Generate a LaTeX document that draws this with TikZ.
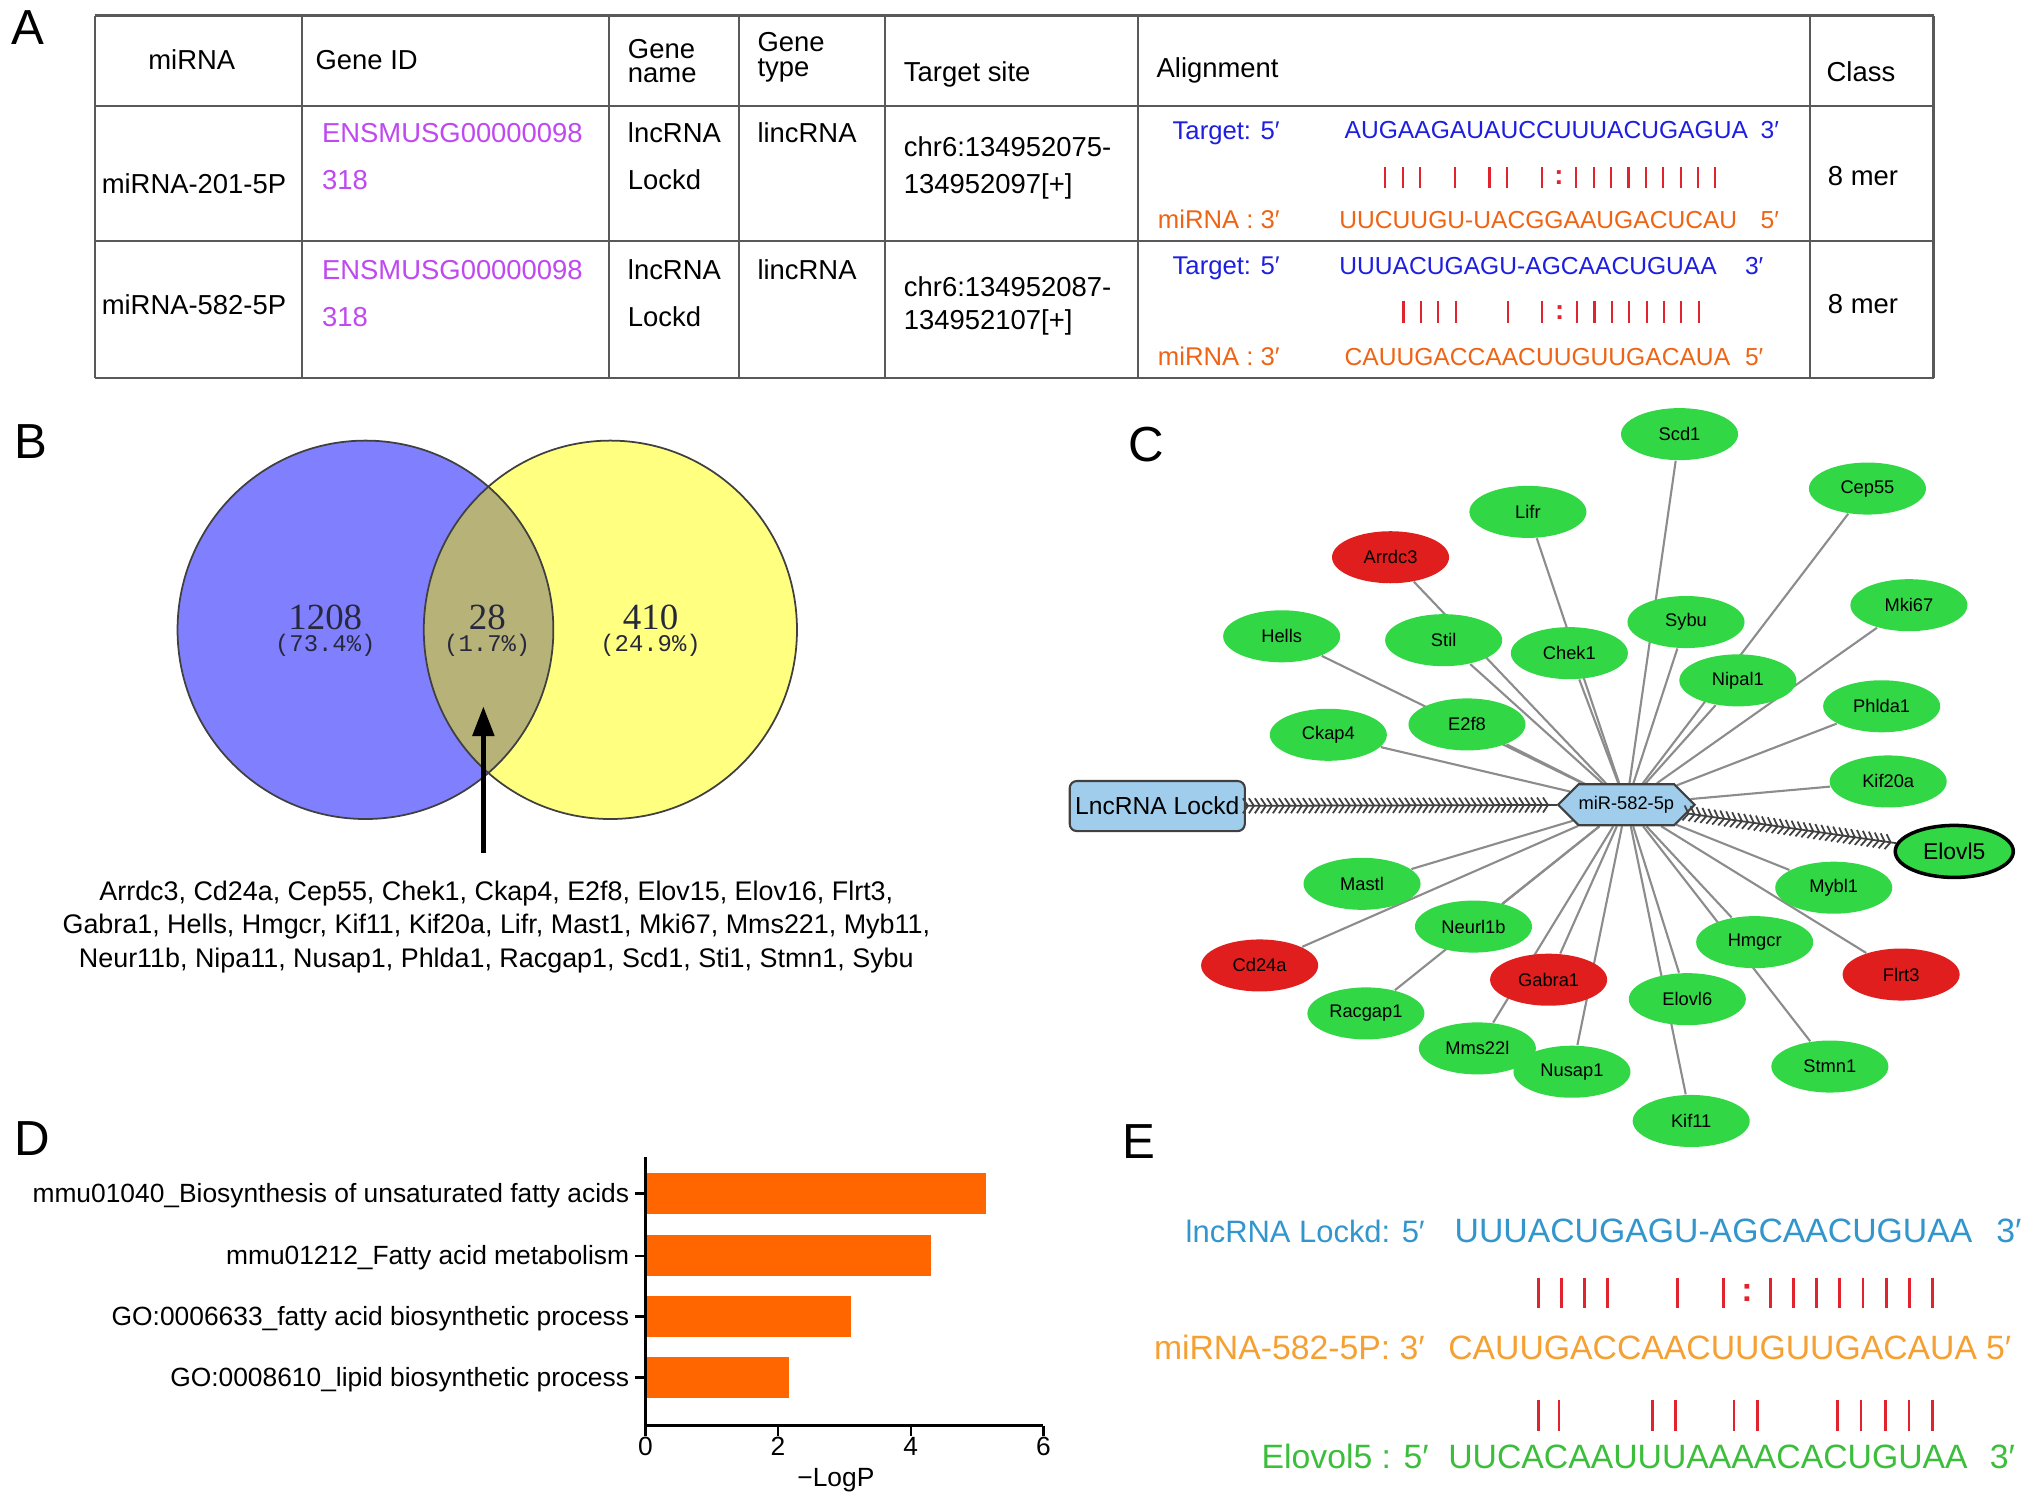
\documentclass[tikz,border=0pt]{standalone}
\usepackage{fontspec}
\setmainfont{Liberation Sans}
\newfontfamily\vnum{Liberation Serif}
\newfontfamily\vpct{Liberation Mono}
\usetikzlibrary{shapes.geometric, shapes.symbols, decorations.markings, arrows.meta, backgrounds}

\definecolor{idpurple}{RGB}{192,72,240}
\definecolor{seqblue}{RGB}{30,30,225}
\definecolor{seqorange}{RGB}{238,100,20}
\definecolor{barred}{RGB}{225,35,45}
\definecolor{vblue}{RGB}{128,128,255}
\definecolor{vyellow}{RGB}{255,255,128}
\definecolor{vmix}{RGB}{182,178,120}
\definecolor{vtext}{RGB}{40,40,60}
\definecolor{ggreen}{RGB}{50,215,70}
\definecolor{gred}{RGB}{225,30,30}
\definecolor{hubblue}{RGB}{160,205,235}
\definecolor{goorange}{RGB}{255,102,0}
\definecolor{eblue}{RGB}{50,150,205}
\definecolor{eorange}{RGB}{245,160,50}
\definecolor{egreen}{RGB}{60,190,60}

\begin{document}
\begin{tikzpicture}[
  x=0.01296cm, y=-0.01296cm,
  panel/.style={anchor=base west, inner sep=0pt, font=\fontsize{14}{14}\selectfont},
  tx/.style={anchor=base west, inner sep=0pt, font=\fontsize{7.8}{9}\selectfont},
  lab/.style={anchor=base east, inner sep=0pt, font=\fontsize{7.3}{9}\selectfont},
  sq/.style={anchor=base west, inner sep=0pt, font=\fontsize{7}{8}\selectfont},
  colon/.style={inner sep=0pt, text=barred, font=\bfseries\fontsize{7.8}{9}\selectfont},
  grid/.style={draw=black!65, line width=0.6pt},
  pair/.style={draw=barred, line width=0.6pt},
  gn/.style={ellipse, fill=ggreen, inner sep=0pt, minimum width=1.17cm, minimum height=0.52cm, font=\fontsize{5.2}{6}\selectfont},
  edg/.style={draw=black!45, line width=0.6pt},
  inh/.style={draw=black!75, line width=0.5pt, postaction={decorate},
    decoration={markings, mark=between positions 0.01 and 0.99 step 0.6mm with {\arrow{Straight Barb[length=0.5mm, width=1.5mm]}}}},
  ax/.style={line width=0.7pt},
  lbl/.style={anchor=base east, inner sep=0pt, font=\fontsize{7.5}{9}\selectfont},
  es/.style={anchor=base west, inner sep=0pt, font=\fontsize{9.6}{11}\selectfont},
]
\useasboundingbox (0,0) rectangle (1568,1162);

\node (pA) [panel] at (8,34) {A};
\node (pB) [panel] at (11,354) {B};
\node (pC) [panel] at (870,356) {C};
\node (pD) [panel] at (11,892) {D};
\node (pE) [panel] at (866,894) {E};

\foreach \cx in {73,233,470,570,683,878,1397,1492}
  \draw [grid] (\cx,12) -- (\cx,292);
\foreach \ry in {12,82,186,292}
  \draw [grid] (73,\ry) -- (1492,\ry);

\node (hmir) [tx, anchor=base] at (148,54) {miRNA};
\node (hid) [tx] at (243,54) {Gene ID};
\node (hnm1) [tx] at (484,45) {Gene};
\node (hnm2) [tx] at (484,64) {name};
\node (hty1) [tx] at (584,40) {Gene};
\node (hty2) [tx] at (584,59) {type};
\node (hsite) [tx] at (697,63) {Target site};
\node (haln) [tx] at (892,60) {Alignment};
\node (hcls) [tx] at (1409,63) {Class};

\node (m1) [tx] at (78,149) {miRNA-201-5P};
\node (id1a) [tx, text=idpurple] at (248,110) {ENSMUSG00000098};
\node (id1b) [tx, text=idpurple] at (248,146) {318};
\node (gn1a) [tx] at (484,110) {lncRNA};
\node (gn1b) [tx] at (484,146) {Lockd};
\node (gt1) [tx] at (584,110) {lincRNA};
\node (ts1a) [tx] at (697,121) {chr6:134952075-};
\node (ts1b) [tx] at (697,149) {134952097[+]};
\node (tg1) [lab, text=seqblue] at (988,108) {Target: 5′};
\node (tg1s) [sq, text=seqblue] at (1037,107) {AUGAAGAUAUCCUUUACUGAGUA};
\node (tg1e) [sq, text=seqblue] at (1358,107) {3′};
\node (mi1) [lab, text=seqorange] at (988,176) {miRNA : 3′};
\node (mi1s) [sq, text=seqorange] at (1033,176) {UUCUUGU-UACGGAAUGACUCAU};
\node (mi1e) [sq, text=seqorange] at (1358,176) {5′};
\node (cl1) [tx] at (1410,143) {8 mer};
\foreach \k in {0,1,2,4,6,7,9,11,12,...,19}
  \draw [pair] (1069+13.4*\k,129) -- (1069+13.4*\k,145);
\node (col1) [colon] at (1069+13.4*10,137) {:};

\node (m2) [tx] at (78,243) {miRNA-582-5P};
\node (id2a) [tx, text=idpurple] at (248,216) {ENSMUSG00000098};
\node (id2b) [tx, text=idpurple] at (248,252) {318};
\node (gn2a) [tx] at (484,216) {lncRNA};
\node (gn2b) [tx] at (484,252) {Lockd};
\node (gt2) [tx] at (584,216) {lincRNA};
\node (ts2a) [tx] at (697,229) {chr6:134952087-};
\node (ts2b) [tx] at (697,254) {134952107[+]};
\node (tg2) [lab, text=seqblue] at (988,212) {Target: 5′};
\node (tg2s) [sq, text=seqblue] at (1033,212) {UUUACUGAGU-AGCAACUGUAA};
\node (tg2e) [sq, text=seqblue] at (1346,212) {3′};
\node (mi2) [lab, text=seqorange] at (988,282) {miRNA : 3′};
\node (mi2s) [sq, text=seqorange] at (1037,282) {CAUUGACCAACUUGUUGACAUA};
\node (mi2e) [sq, text=seqorange] at (1346,282) {5′};
\node (cl2) [tx] at (1410,242) {8 mer};
\foreach \k in {0,1,2,3,6,8,10,11,...,17}
  \draw [pair] (1083+13.4*\k,232) -- (1083+13.4*\k,249);
\node (col2) [colon] at (1083+13.4*9,241) {:};

\fill [vblue] (282,486) ellipse [x radius=145, y radius=146];
\fill [vyellow] (471,486) ellipse [x radius=144, y radius=146];
\begin{scope}
  \clip (282,486) ellipse [x radius=145, y radius=146];
  \fill [vmix] (471,486) ellipse [x radius=144, y radius=146];
\end{scope}
\draw [black!75, line width=0.5pt] (282,486) ellipse [x radius=145, y radius=146];
\draw [black!75, line width=0.5pt] (471,486) ellipse [x radius=144, y radius=146];

\node (n1) [anchor=base, inner sep=0pt, text=vtext, font=\vnum\fontsize{10.5}{12}\selectfont] at (251,486) {1208};
\node (n2) [anchor=base, inner sep=0pt, text=vtext, font=\vnum\fontsize{10.5}{12}\selectfont] at (376,486) {28};
\node (n3) [anchor=base, inner sep=0pt, text=vtext, font=\vnum\fontsize{10.5}{12}\selectfont] at (502,486) {410};
\node (p1) [anchor=base, inner sep=0pt, text=vtext, font=\vpct\fontsize{6.8}{8}\selectfont] at (251,503) {(73.4\%)};
\node (p2) [anchor=base, inner sep=0pt, text=vtext, font=\vpct\fontsize{6.8}{8}\selectfont] at (376,503) {(1.7\%)};
\node (p3) [anchor=base, inner sep=0pt, text=vtext, font=\vpct\fontsize{6.8}{8}\selectfont] at (502,503) {(24.9\%)};

\coordinate (afoot) at (373,658);
\coordinate (atip) at (373,545);
\draw [line width=1.5pt, -{Triangle[length=8.5pt, width=6pt]}] (afoot) -- (atip);

\node (genes) [anchor=north, align=center, inner sep=0pt, font=\fontsize{7.65}{9.6}\selectfont] at (383,679)
  {Arrdc3, Cd24a, Cep55, Chek1, Ckap4, E2f8, Elov15, Elov16, Flrt3,\\
   Gabra1, Hells, Hmgcr, Kif11, Kif20a, Lifr, Mast1, Mki67, Mms221, Myb11,\\
   Neur11b, Nipa11, Nusap1, Phlda1, Racgap1, Scd1, Sti1, Stmn1, Sybu};

\node (hub) [signal, signal to=east and west, draw=black!75, fill=hubblue, line width=0.6pt,
  minimum width=1.11cm, minimum height=0.41cm, inner sep=0pt, font=\fontsize{5.2}{6}\selectfont] at (1255,621) {miR-582-5p};
\node (lockd) [draw=black!75, fill=hubblue, rounded corners=2pt, line width=0.6pt,
  minimum width=1.75cm, minimum height=0.5cm, inner sep=0pt, font=\fontsize{7}{8}\selectfont] at (893,622) {LncRNA Lockd};
\node (elovl5) [gn, draw=black, line width=1pt, minimum width=1.18cm, font=\fontsize{6.5}{7}\selectfont] at (1508,657) {Elovl5};

\foreach \nm/\px/\py/\fc in {Scd1/1296/335/ggreen, Cep55/1441/377/ggreen, Lifr/1179/395/ggreen,
    Arrdc3/1073/430/gred, Mki67/1473/467/ggreen, Sybu/1301/480/ggreen, Hells/989/491/ggreen,
    Stil/1114/494/ggreen, Chek1/1211/504/ggreen, Nipal1/1341/525/ggreen, Phlda1/1452/545/ggreen,
    Ckap4/1025/567/ggreen, E2f8/1132/559/ggreen, Kif20a/1457/603/ggreen, Mastl/1051/682/ggreen,
    Mybl1/1415/685/ggreen, Neurl1b/1137/715/ggreen, Hmgcr/1354/727/ggreen, Cd24a/972/745/gred,
    Gabra1/1195/756/gred, Flrt3/1467/752/gred, Elovl6/1302/771/ggreen, Racgap1/1054/782/ggreen,
    Mms22l/1140/809/ggreen, Nusap1/1213/827/ggreen, Stmn1/1412/823/ggreen, Kif11/1305/865/ggreen}
  \node (\nm) [gn, fill=\fc] at (\px,\py) {\nm};

\begin{scope}[on background layer]
  \foreach \nm in {Scd1, Cep55, Lifr, Arrdc3, Mki67, Sybu, Hells, Stil, Chek1, Nipal1, Phlda1,
      Ckap4, E2f8, Kif20a, Mastl, Mybl1, Neurl1b, Hmgcr, Cd24a, Gabra1, Flrt3, Elovl6,
      Racgap1, Mms22l, Nusap1, Stmn1, Kif11}
    \draw [edg] (hub) -- (\nm);
\end{scope}

\draw [inh] (lockd) -- (hub);
\draw [inh] (hub) -- (elovl5);

\foreach \yy/\vv in {921/5.14, 969/4.3, 1016/3.1, 1063/2.17}
  \fill [goorange] (498,\yy-16) rectangle (498+51.2*\vv,\yy+16);
\draw [ax] (498,893) -- (498,1100) -- (805,1100);
\foreach \yy in {921,969,1016,1063}
  \draw [ax] (490,\yy) -- (498,\yy);
\foreach \t in {0,2,4,6}
  \draw [ax] (498+51.2*\t,1100) -- (498+51.2*\t,1108)
    node (t\t) [anchor=base, inner sep=0pt, font=\fontsize{7.5}{9}\selectfont] at (498+51.2*\t,1123) {\t};
\node (xlab) [anchor=base, inner sep=0pt, font=\fontsize{7.5}{9}\selectfont] at (645,1147) {−LogP};

\node (g1) [lbl] at (486,928) {mmu01040\_Biosynthesis of unsaturated fatty acids};
\node (g2) [lbl] at (486,976) {mmu01212\_Fatty acid metabolism};
\node (g3) [lbl] at (486,1023) {GO:0006633\_fatty acid biosynthetic process};
\node (g4) [lbl] at (486,1070) {GO:0008610\_lipid biosynthetic process};

\node (e1l) [es, anchor=base east, text=eblue, font=\fontsize{8.8}{11}\selectfont] at (1100,959) {lncRNA Lockd: 5′};
\node (e1s) [es, text=eblue] at (1122,959) {UUUACUGAGU-AGCAACUGUAA};
\node (e1e) [es, text=eblue] at (1540,959) {3′};
\node (e2l) [es, anchor=base east, text=eorange] at (1100,1049) {miRNA-582-5P: 3′};
\node (e2s) [es, text=eorange] at (1117,1049) {CAUUGACCAACUUGUUGACAUA};
\node (e2e) [es, text=eorange] at (1532,1049) {5′};
\node (e3l) [es, anchor=base east, text=egreen] at (1103,1133) {Elovol5 : 5′};
\node (e3s) [es, text=egreen] at (1117,1133) {UUCACAAUUUAAAACACUGUAA};
\node (e3e) [es, text=egreen] at (1535,1133) {3′};
\foreach \k in {0,1,2,3,6,8,10,11,...,17}
  \draw [pair, line width=0.8pt] (1187+17.9*\k,986) -- (1187+17.9*\k,1009);
\node (col3) [colon, font=\bfseries\fontsize{9.6}{11}\selectfont] at (1187+17.9*9,998) {:};
\foreach \bx in {1187,1203,1275,1293,1338,1356,1418,1436,1455,1473,1491}
  \draw [pair, line width=0.8pt] (\bx,1080) -- (\bx,1104);

\end{tikzpicture}
\end{document}
